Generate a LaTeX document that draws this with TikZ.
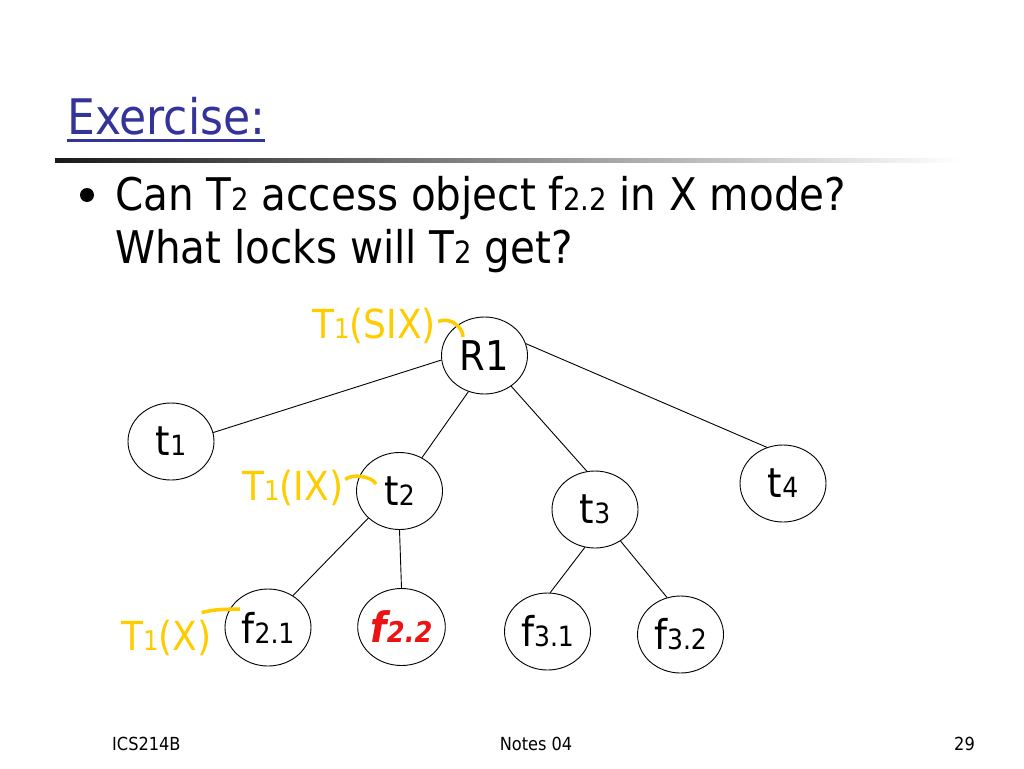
\documentclass[tikz,border=0pt]{standalone}
\usepackage{fontspec}
\setmainfont{DejaVu Sans Condensed}
\usetikzlibrary{shapes.geometric}

\definecolor{titleblue}{RGB}{51,51,153}
\definecolor{lockyellow}{RGB}{255,204,0}
\definecolor{hotred}{RGB}{235,20,20}
\newcommand\smn[1]{{\fontsize{0.68em}{0.68em}\selectfont #1}}

\begin{document}
\begin{tikzpicture}[x=1pt,y=-1pt,
  every node/.style={inner sep=0pt},
  obj/.style={draw,ellipse,line width=0.9pt,minimum width=86pt,minimum height=77pt,
    font=\fontsize{41}{41}\selectfont},
  lock/.style={anchor=base west,text=lockyellow,font=\fontsize{40}{40}\selectfont},
  hook/.style={draw=lockyellow,line width=3.5pt},
  edge/.style={line width=0.9pt}]
\useasboundingbox[fill=white] (0,0) rectangle (1024,768);

% title and question
\node[anchor=base west,text=titleblue,font=\fontsize{49}{49}\selectfont] (title) at (67,134) {Exercise:};
\draw[titleblue,line width=3pt] ([yshift=-6pt]title.base west) -- ([yshift=-6pt]title.base east);
\shade[left color=black!90,right color=white] (55,158) rectangle (960,162);
\node[circle,fill,minimum size=14pt] (bullet) at (87,195) {};
\node[anchor=base west,font=\fontsize{45}{45}\selectfont] (q1) at (115,210) {Can T\smn{2} access object f\smn{2.2} in X mode?};
\node[anchor=base west,font=\fontsize{45}{45}\selectfont] (q2) at (115,263) {What locks will T\smn{2} get?};

% the tree
\node[obj] (R1) at (484.5,355.5) {R1};
\node[obj] (t1) at (171,441.5) {t\smn{1}};
\node[obj] (t2) at (399.5,491) {t\smn{2}};
\node[obj] (t3) at (595,509.5) {t\smn{3}};
\node[obj] (t4) at (783,483.5) {t\smn{4}};
\node[obj] (f21) at (268,627.5) {f\smn{2.1}};
\node[obj,text=hotred,font=\fontsize{42}{42}\selectfont\bfseries\itshape] (f22) at (401.5,627) {f\smn{2.2}};
\node[obj] (f31) at (547.5,631.5) {f\smn{3.1}};
\node[obj] (f32) at (680.5,634.5) {f\smn{3.2}};

\draw[edge] (R1.186) -- (t1.12);
\draw[edge] (R1.246) -- (t2.56);
\draw[edge] (R1.311) -- (t3.102);
\draw[edge] (R1.16) -- (t4.114);
\draw[edge] (t2.221) -- (f21.52);
\draw[edge] (t2.270) -- (f22.90);
\draw[edge] (t3.255) -- (f31.86);
\draw[edge] (t3.309) -- (f32.110);

% locks held by T1
\node[lock] (lk1) at (312,338) {T\smn{1}(SIX)};
\node[lock] (lk2) at (242,500) {T\smn{1}(IX)};
\node[lock] (lk3) at (121,650) {T\smn{1}(X)};
\coordinate (h1) at (463,337);
\coordinate (h2) at (376,484);
\coordinate (h3) at (240,609);
\draw[hook] ([xshift=2pt,yshift=4pt]lk1.east) .. controls +(12,-5) and +(0,-10) .. (h1);
\draw[hook] ([xshift=2pt,yshift=8pt]lk2.east) .. controls +(6,-6) and +(-4,-8) .. (h2);
\draw[hook] ([xshift=-10pt,yshift=7pt]lk3.north east) .. controls +(15,-3) .. (h3);

% footer
\node[anchor=base west,font=\fontsize{18}{18}\selectfont] (course) at (112,750) {ICS214B};
\node[anchor=base,font=\fontsize{18}{18}\selectfont] (notes) at (536,750) {Notes 04};
\node[anchor=base east,font=\fontsize{18}{18}\selectfont] (page) at (975,750) {29};
\end{tikzpicture}
\end{document}
